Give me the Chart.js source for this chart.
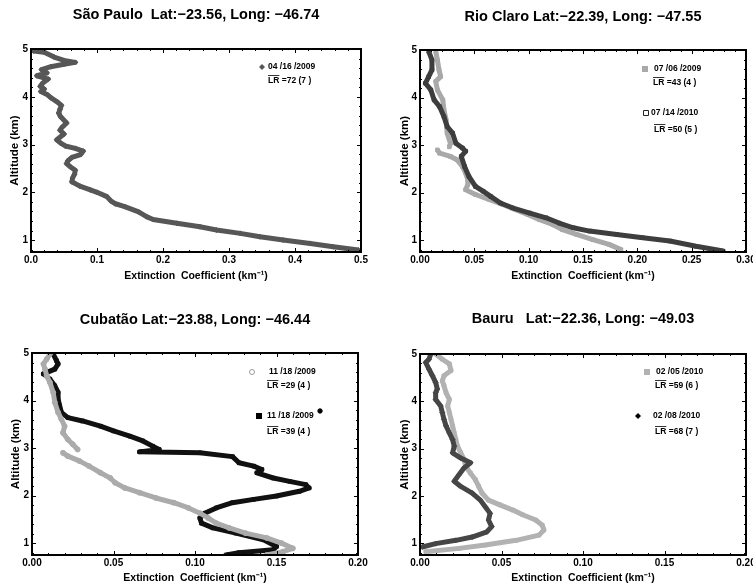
<!DOCTYPE html>
<html><head><meta charset="utf-8">
<script src="https://cdn.jsdelivr.net/npm/chart.js@4/dist/chart.umd.min.js"></script>
<style>
html,body{margin:0;padding:0;background:#fff;overflow:hidden;width:753px;height:586px;position:relative;}
canvas{position:absolute;display:block;}
</style></head><body>
<canvas id="c1" width="376" height="293" style="left:0;top:0"></canvas>
<canvas id="c2" width="389" height="293" style="left:376px;top:0"></canvas>
<canvas id="c3" width="376" height="293" style="left:0;top:293px"></canvas>
<canvas id="c4" width="389" height="293" style="left:376px;top:293px"></canvas>
<script>
// ---------- Data (extinction km^-1 vs altitude km) ----------
// São Paulo 04/16/2009
const spAlt = [5.00,4.96,4.93,4.83,4.76,4.72,4.68,4.63,4.57,4.50,4.44,4.37,4.29,4.22,4.16,4.11,4.04,3.98,3.90,3.82,3.74,3.66,3.58,3.45,3.36,3.30,3.22,3.10,3.03,2.97,2.92,2.86,2.79,2.73,2.66,2.60,2.53,2.46,2.38,2.30,2.22,2.13,2.05,2.00,1.91,1.82,1.76,1.70,1.59,1.49,1.43,1.35,1.28,1.21,1.14,1.07,1.00,0.93,0.86,0.79];
const spExt = [0.012,0.004,0.020,0.035,0.050,0.067,0.050,0.030,0.016,0.024,0.009,0.026,0.018,0.014,0.020,0.015,0.025,0.030,0.039,0.046,0.044,0.042,0.045,0.054,0.047,0.044,0.050,0.039,0.045,0.052,0.067,0.079,0.075,0.062,0.056,0.054,0.060,0.067,0.066,0.063,0.062,0.074,0.090,0.100,0.115,0.121,0.128,0.142,0.163,0.175,0.185,0.221,0.256,0.281,0.317,0.347,0.382,0.423,0.458,0.496];

// Rio Claro 07/06/2009 (null = break in profile)
const rc1Alt = [4.97,4.79,4.58,4.44,4.34,4.16,3.95,3.74,3.53,3.25,3.04,2.96,null,2.90,2.83,2.76,2.69,2.55,2.41,2.27,2.17,2.06,1.96,1.85,1.75,1.64,1.54,1.43,1.33,1.22,1.12,1.01,0.91,0.80];
const rc1Ext = [0.0145,0.016,0.0175,0.019,0.0145,0.016,0.021,0.022,0.024,0.025,0.028,0.027,null,0.016,0.018,0.028,0.034,0.039,0.042,0.044,0.044,0.042,0.051,0.064,0.076,0.088,0.099,0.110,0.122,0.131,0.144,0.159,0.174,0.185];
// Rio Claro 07/14/2010
const rc2Alt = [4.97,4.79,4.58,4.44,4.30,4.16,3.95,3.81,3.60,3.39,3.25,3.04,2.94,2.87,2.76,2.55,2.34,2.13,2.03,1.92,1.78,1.68,1.57,1.47,1.36,1.26,1.19,1.12,1.05,0.98,0.87,0.77];
const rc2Ext = [0.008,0.011,0.011,0.008,0.005,0.010,0.013,0.018,0.022,0.025,0.030,0.033,0.039,0.042,0.038,0.041,0.045,0.051,0.058,0.065,0.074,0.085,0.101,0.116,0.128,0.141,0.156,0.181,0.205,0.230,0.254,0.279];

// Cubatão 11/18/2009 (LR 29)
const cu1Alt = [4.98,4.87,4.77,4.66,4.52,4.38,4.17,3.96,3.75,3.61,3.46,3.32,3.18,3.08,2.97,null,2.90,2.83,2.73,2.62,2.48,2.37,2.27,2.16,2.06,1.95,1.85,1.74,1.63,1.53,1.42,1.32,1.21,1.11,1.00,0.89,0.82,0.75];
const cu1Ext = [0.011,0.009,0.007,0.008,0.009,0.011,0.013,0.014,0.016,0.018,0.020,0.019,0.022,0.025,0.028,null,0.019,0.022,0.029,0.035,0.042,0.048,0.051,0.057,0.066,0.076,0.087,0.096,0.103,0.108,0.113,0.121,0.131,0.144,0.153,0.160,0.154,0.144];
// Cubatão 11/18/2009 (LR 39)
const cu2Alt = [4.98,4.84,4.77,4.66,4.56,4.45,4.31,4.17,4.03,3.89,3.75,3.64,3.57,3.46,3.36,3.25,3.15,3.04,2.97,2.92,2.90,2.82,2.69,2.62,2.55,2.48,2.37,2.30,2.23,2.16,2.09,1.99,1.92,1.85,1.74,1.63,1.53,1.42,1.32,1.21,1.07,0.93,0.86,0.80,0.75];
const cu2Ext = [0.013,0.015,0.016,0.014,0.007,0.011,0.014,0.016,0.016,0.017,0.018,0.022,0.031,0.042,0.050,0.060,0.068,0.074,0.078,0.066,0.103,0.123,0.127,0.136,0.141,0.138,0.148,0.158,0.168,0.170,0.164,0.150,0.136,0.123,0.113,0.106,0.103,0.104,0.111,0.125,0.142,0.150,0.148,0.127,0.119];
const cuStrayAlt = [3.78];
const cuStrayExt = [0.1767];

// Bauru 02/05/2010
const ba1Alt = [5.00,4.89,4.79,4.65,4.54,4.43,4.33,4.18,4.04,3.90,3.76,3.62,3.48,3.33,3.19,3.05,2.91,2.77,2.62,2.48,2.34,2.20,2.06,1.91,1.81,1.70,1.60,1.49,1.38,1.28,1.17,1.06,0.96,0.89,0.82];
const ba1Ext = [0.0096,0.0137,0.018,0.019,0.0147,0.0137,0.0147,0.016,0.018,0.017,0.018,0.019,0.020,0.021,0.022,0.023,0.025,0.027,0.028,0.031,0.034,0.036,0.038,0.042,0.049,0.057,0.063,0.071,0.075,0.076,0.073,0.059,0.040,0.024,0.0035];
// Bauru 02/08/2010
const ba2Alt = [5.00,4.89,4.82,4.68,4.54,4.40,4.26,4.18,4.04,3.90,3.76,3.62,3.48,3.33,3.19,3.05,2.91,2.80,2.70,2.59,2.45,2.31,2.20,2.06,1.91,1.77,1.63,1.49,1.35,1.24,1.13,1.06,0.99,0.92];
const ba2Ext = [0.0066,0.0055,0.0035,0.0055,0.0076,0.0096,0.0106,0.0096,0.0096,0.0127,0.0137,0.0147,0.016,0.018,0.020,0.021,0.020,0.025,0.031,0.027,0.024,0.021,0.025,0.032,0.037,0.040,0.043,0.042,0.044,0.041,0.032,0.022,0.0096,0.0014];

// Tick values
const yTicks = [1,2,3,4,5];
const xTicksSP = [0,0.1,0.2,0.3,0.4,0.5];
const xTicksRC = [0,0.05,0.10,0.15,0.20,0.25,0.30];
const xTicksCB = [0,0.05,0.10,0.15,0.20];

// Titles
const titles = ['São Paulo  Lat:\u221223.56, Long: \u221246.74','Rio Claro Lat:\u221222.39, Long: \u221247.55','Cubatão Lat:\u221223.88, Long: \u221246.44','Bauru   Lat:\u221222.36, Long: \u221249.03'];
const xTitle = 'Extinction  Coefficient (km\u207B\u00B9)';
const yTitle = 'Altitude (km)';

// ---------- helpers ----------
const FONT = "'Liberation Sans', Arial, Helvetica, sans-serif";
function pts(ext, alt){ return ext.map((v,i)=>({x: v===null?NaN:v, y: alt[i]===null?NaN:alt[i]})); }

function drawMarker(ctx, style, x, y, r, color){
  ctx.save();
  ctx.fillStyle = color; ctx.strokeStyle = color; ctx.lineWidth = 1;
  ctx.beginPath();
  if (style==='diamond'){ ctx.moveTo(x,y-r); ctx.lineTo(x+r,y); ctx.lineTo(x,y+r); ctx.lineTo(x-r,y); ctx.closePath(); ctx.fill(); }
  else if (style==='square'){ ctx.rect(x-r,y-r,2*r,2*r); ctx.fill(); }
  else if (style==='hsquare'){ ctx.rect(x-r+0.5,y-r+0.5,2*r-1,2*r-1); ctx.stroke(); }
  else if (style==='hcircle'){ ctx.arc(x,y,r-0.5,0,Math.PI*2); ctx.stroke(); }
  ctx.restore();
}

const framePlugin = {
  id:'frameTicks',
  afterDatasetsDraw(chart, args, opts){
    const {ctx, chartArea:a, scales:{x,y}} = chart;
    ctx.save();
    ctx.strokeStyle = '#000'; ctx.lineWidth = 1;
    const xt = opts.xTicks, yt = opts.yTicks;
    const xStep = xt[1]-xt[0];
    ctx.beginPath();
    for (let i=0;i<xt.length;i++){
      for (let k=0;k<5;k++){
        const v = xt[i] + k*xStep/5;
        if (v > x.max + 1e-9) break;
        const px = Math.round(x.getPixelForValue(v))+0.5;
        const L = k===0 ? 4 : 2;
        ctx.moveTo(px,a.bottom); ctx.lineTo(px,a.bottom-L);
        ctx.moveTo(px,a.top); ctx.lineTo(px,a.top+L);
      }
    }
    for (let v=yt[0]-1; v<=yt[yt.length-1]+1e-9; v+=0.2){
      if (v < y.min - 1e-9) continue;
      const major = Math.abs(v-Math.round(v))<1e-6;
      const py = Math.round(y.getPixelForValue(v))+0.5;
      const L = major ? 4 : 2;
      ctx.moveTo(a.left,py); ctx.lineTo(a.left+L,py);
      ctx.moveTo(a.right,py); ctx.lineTo(a.right-L,py);
    }
    ctx.stroke();
    ctx.lineWidth = 2;
    ctx.strokeRect(a.left, a.top, a.right-a.left, a.bottom-a.top);
    ctx.restore();
  }
};

const legendPlugin = {
  id:'legendBox',
  afterDraw(chart, args, opts){
    const ctx = chart.ctx;
    ctx.save();
    ctx.fillStyle = '#000'; ctx.strokeStyle = '#000';
    ctx.font = "bold 8.5px " + FONT;
    ctx.textBaseline = 'middle';
    (opts.items||[]).forEach(it=>{
      if (it.marker) drawMarker(ctx, it.marker, it.mx, it.y, 3, it.color);
      ctx.fillStyle = '#000';
      ctx.fillText(it.text, it.tx, it.y);
      const lx = it.lx, ly = it.ly;
      ctx.fillText('LR', lx, ly);
      const w = ctx.measureText('LR').width;
      ctx.lineWidth = 0.8;
      ctx.beginPath(); ctx.moveTo(lx, ly-5.5); ctx.lineTo(lx+w, ly-5.5); ctx.stroke();
      ctx.fillText(it.lr, lx+w, ly);
    });
    ctx.restore();
  }
};

function makeChart(id, c){
  return new Chart(document.getElementById(id), {
    type:'scatter',
    data:{datasets:c.datasets},
    options:{
      responsive:false, animation:false, events:[],
      layout:{padding:{left:0,right:c.padRight,top:0,bottom:0}},
      plugins:{
        legend:{display:false}, tooltip:{enabled:false},
        title:{display:true, text:c.title, fullSize:false, color:'#000',
               font:{family:FONT,size:14.5,weight:'bold',lineHeight:1.2},
               padding:{top:c.titleTop,bottom:c.titleBottom}},
        frameTicks:{xTicks:c.xTicks, yTicks:yTicks},
        legendBox:{items:c.legend}
      },
      scales:{
        x:{type:'linear', position:'bottom', min:0, max:c.xTicks[c.xTicks.length-1],
           grid:{display:false, drawTicks:false}, border:{display:false},
           ticks:{color:'#000', font:{family:FONT,size:10,weight:'bold'}, padding:c.xTickPad, maxRotation:0,
                  callback:(v)=>Number(v).toFixed(c.xDec)},
           afterBuildTicks:(s)=>{ s.ticks = c.xTicks.map(v=>({value:v})); },
           afterFit:(s)=>{ s.height = c.xAxisH; },
           title:{display:true, text:xTitle, color:'#000', font:{family:FONT,size:10.5,weight:'bold',lineHeight:1.2},
                  padding:{top:0,bottom:c.xTitlePad}}},
        y:{type:'linear', position:'left', min:0.75, max:5,
           grid:{display:false, drawTicks:false}, border:{display:false},
           ticks:{color:'#000', font:{family:FONT,size:10,weight:'bold'}, padding:3,
                  callback:(v)=>String(v)},
           afterBuildTicks:(s)=>{ s.ticks = yTicks.map(v=>({value:v})); },
           afterFit:(s)=>{ s.width = c.yAxisW; },
           title:{display:true, text:yTitle, color:'#000', font:{family:FONT,size:11.5,weight:'bold',lineHeight:1.2},
                  padding:{top:c.yTitlePad,bottom:0}}}
      }
    },
    plugins:[framePlugin, legendPlugin]
  });
}

function ds(label, ext, alt, color, style, order){
  return {label, data:pts(ext,alt), showLine:true, spanGaps:false,
          borderColor:color, borderWidth:5, borderCapStyle:'butt', borderJoinStyle:'round',
          pointStyle:style, pointRadius:2.5, pointBorderWidth:1,
          pointBackgroundColor:color, pointBorderColor:color, order};
}

// São Paulo
makeChart('c1', {
  title:titles[0], titleTop:6.3, titleBottom:25.3, padRight:15, yAxisW:31, xAxisH:41, yTitlePad:8.1,
  xTickPad:2, xTitlePad:10.7, xTicks:xTicksSP, xDec:1,
  datasets:[ ds('04/16/2009', spExt, spAlt, '#575757', 'rectRot', 0) ],
  legend:[{marker:'diamond', color:'#575757', mx:262, tx:268, y:67, text:'04 /16 /2009', lx:268, ly:81, lr:' =72 (7 )'}]
});
// Rio Claro
makeChart('c2', {
  title:titles[1], titleTop:8.3, titleBottom:24.3, padRight:19, yAxisW:44, xAxisH:41, yTitlePad:22.1,
  xTickPad:2, xTitlePad:10.7, xTicks:xTicksRC, xDec:2,
  datasets:[ ds('07/06/2009', rc1Ext, rc1Alt, '#a9a9a9', 'rect', 1),
             ds('07/14/2010', rc2Ext, rc2Alt, '#3e3e3e', 'rect', 0) ],
  legend:[{marker:'square', color:'#a9a9a9', mx:269, tx:278, y:69, text:'07 /06 /2009', lx:277, ly:83, lr:' =43 (4 )'},
          {marker:'hsquare', color:'#222', mx:270, tx:275, y:113, text:'07 /14 /2010', lx:278, ly:130, lr:' =50 (5 )'}]
});
// Cubatão
makeChart('c3', {
  title:titles[2], titleTop:18.3, titleBottom:24.3, padRight:18, yAxisW:32, xAxisH:31, yTitlePad:8.6,
  xTickPad:2, xTitlePad:1.7, xTicks:xTicksCB, xDec:2,
  datasets:[ ds('11/18/2009 a', cu1Ext, cu1Alt, '#ababab', 'circle', 0),
             ds('11/18/2009 b', cu2Ext, cu2Alt, '#111111', 'rect', 1),
             {label:'stray', data:pts(cuStrayExt, cuStrayAlt), showLine:false, pointRadius:2.2, pointStyle:'circle',
              pointBackgroundColor:'#000', pointBorderColor:'#000', order:2} ],
  legend:[{marker:'hcircle', color:'#9a9a9a', mx:252, tx:269, y:79, text:'11 /18 /2009', lx:267, ly:93, lr:' =29 (4 )'},
          {marker:'square', color:'#000', mx:259, tx:267, y:123, text:'11 /18 /2009', lx:267, ly:139, lr:' =39 (4 )'}]
});
// Bauru
makeChart('c4', {
  title:titles[3], titleTop:17.0, titleBottom:26.6, padRight:19, yAxisW:44, xAxisH:31, yTitlePad:22.1,
  xTickPad:2, xTitlePad:1.7, xTicks:xTicksCB, xDec:2,
  datasets:[ ds('02/05/2010', ba1Ext, ba1Alt, '#b2b2b2', 'rect', 1),
             ds('02/08/2010', ba2Ext, ba2Alt, '#464646', 'rectRot', 0) ],
  legend:[{marker:'square', color:'#b2b2b2', mx:271, tx:280, y:79, text:'02 /05 /2010', lx:279, ly:93, lr:' =59 (6 )'},
          {marker:'diamond', color:'#000', mx:262, tx:277, y:123, text:'02 /08 /2010', lx:279, ly:139, lr:' =68 (7 )'}]
});
</script>
</body></html>
